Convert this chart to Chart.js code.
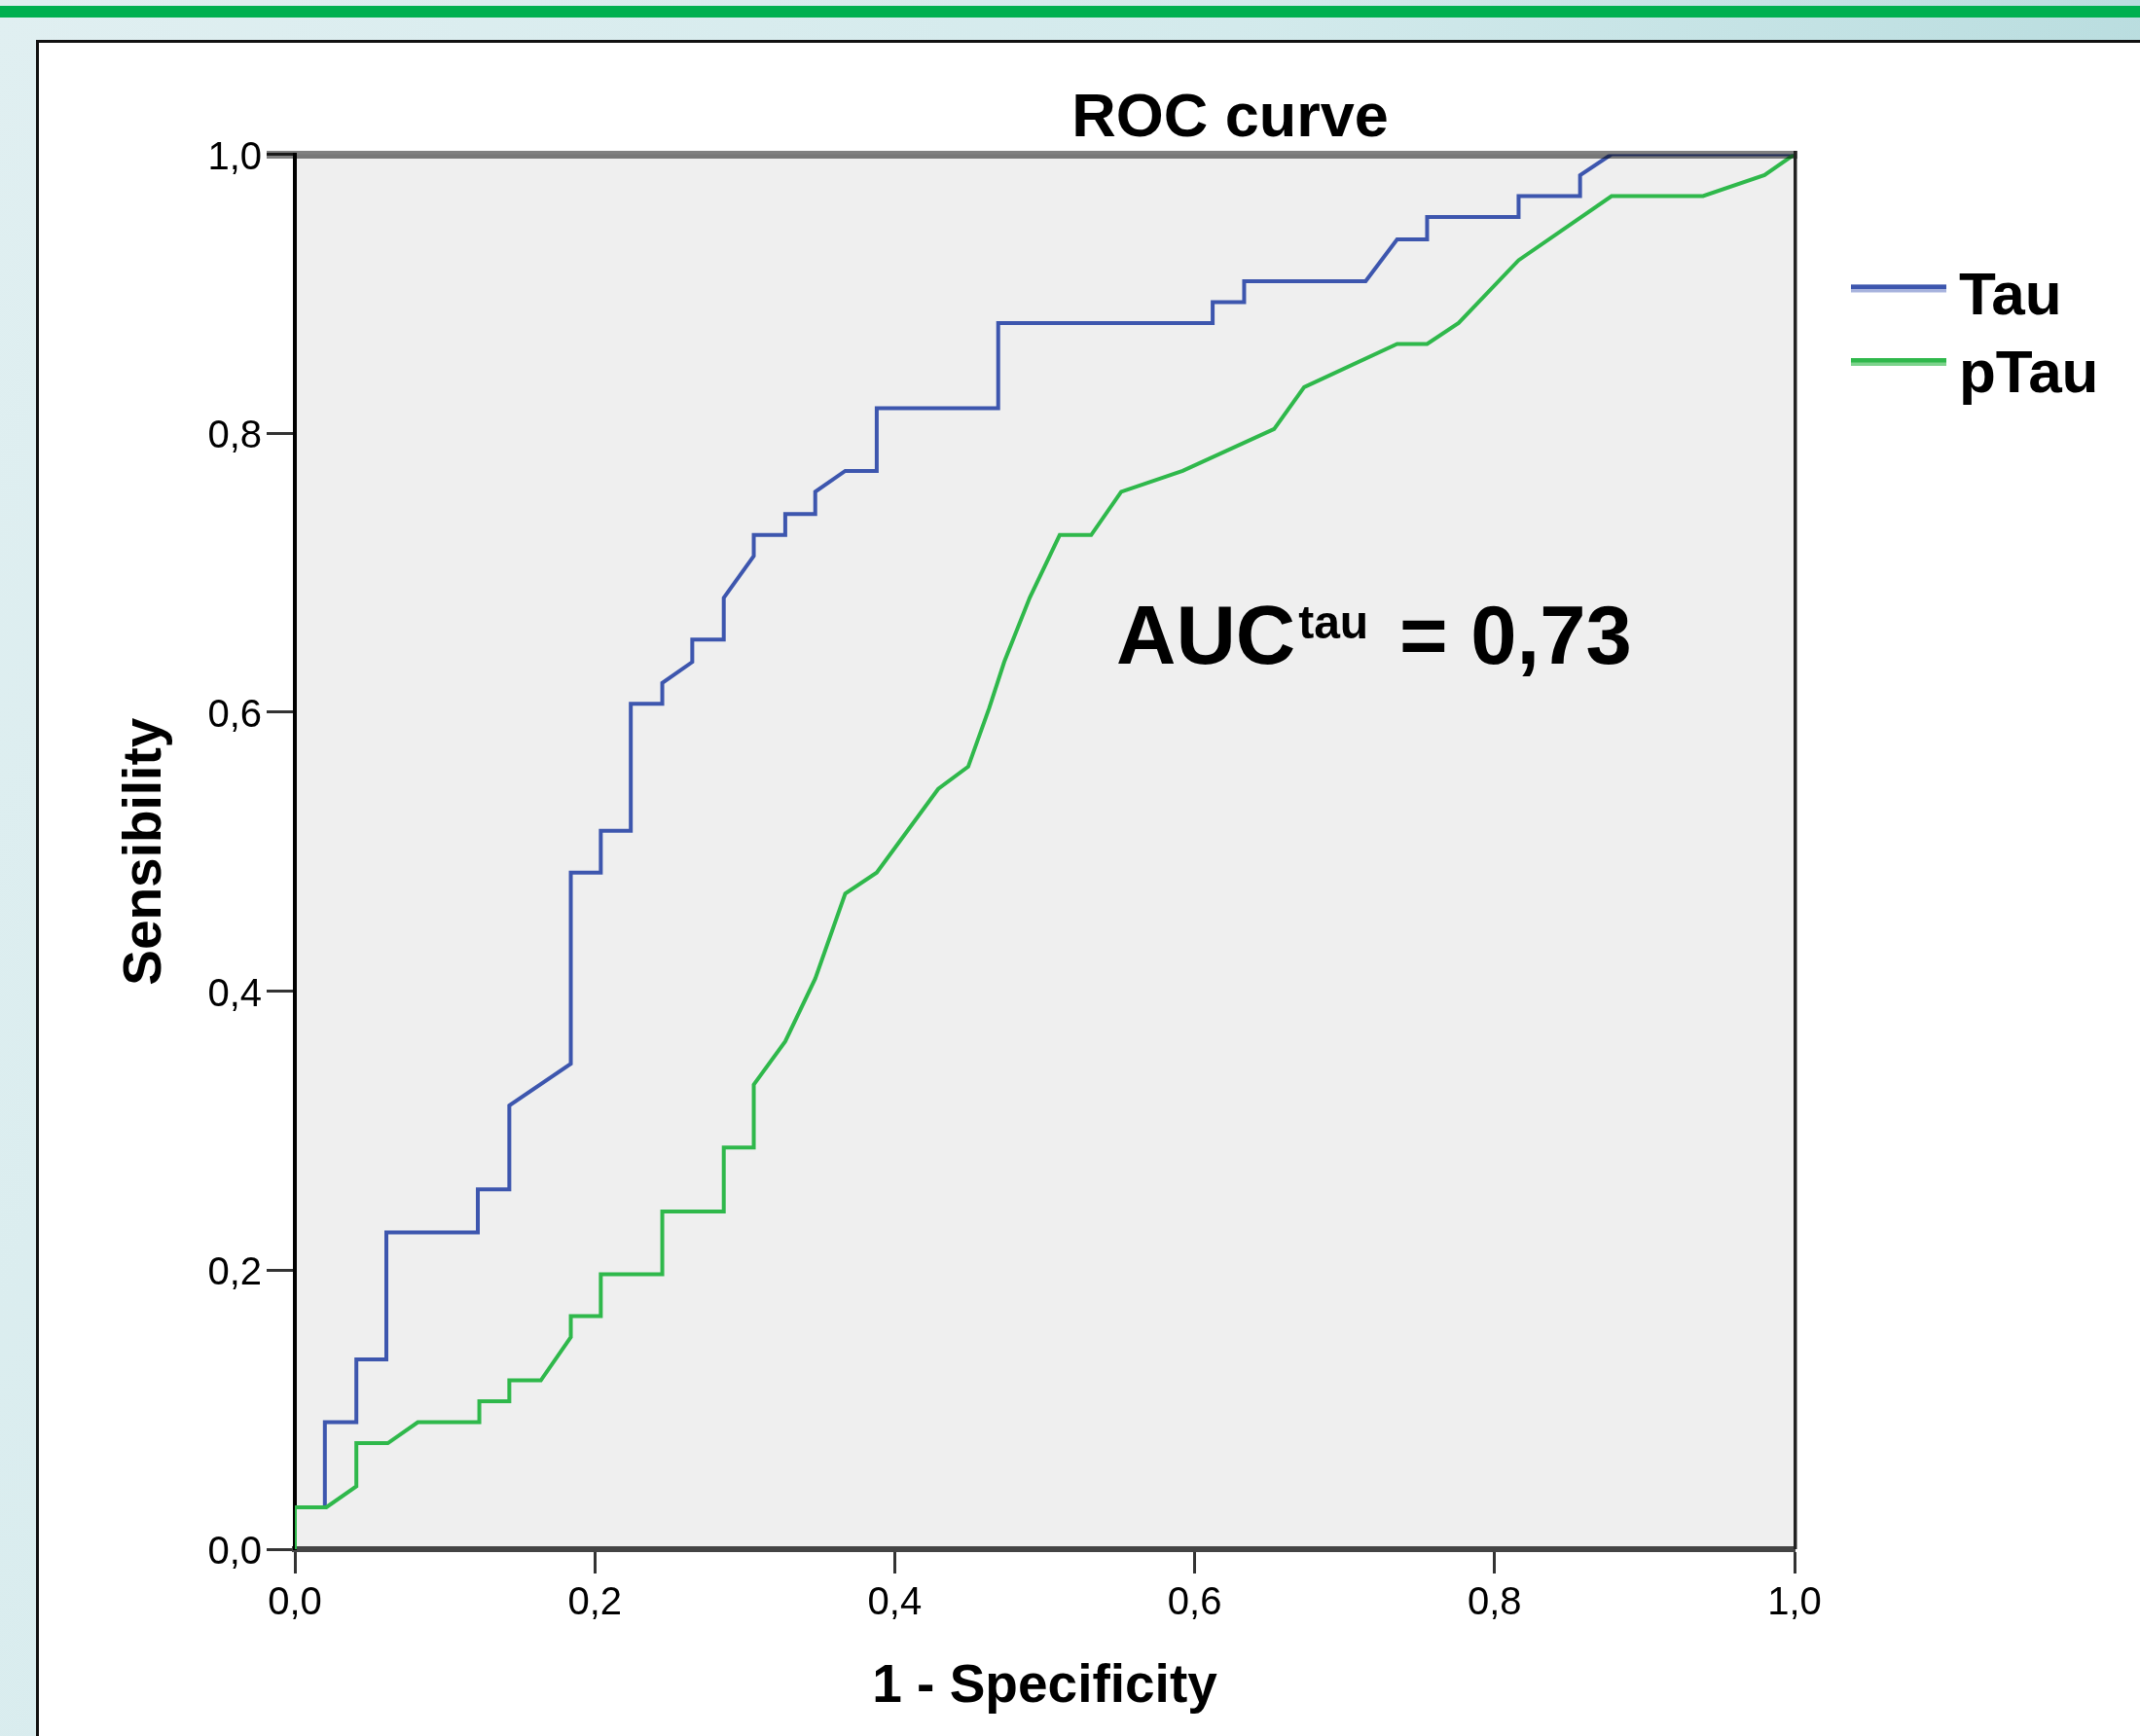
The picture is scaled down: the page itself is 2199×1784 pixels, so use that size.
<!DOCTYPE html>
<html><head><meta charset="utf-8">
<script src="https://cdn.jsdelivr.net/npm/chart.js@4.4.0/dist/chart.umd.min.js"></script>
<style>
html,body{margin:0;padding:0;}
body{width:2199px;height:1784px;overflow:hidden;position:relative;background:linear-gradient(110deg,#e0eff1 0%,#d3eaec 45%,#a9d5d7 100%);}
#band{position:absolute;left:0;top:6px;width:2199px;height:12px;background:#00b050;}
#panel{position:absolute;left:37px;top:41px;width:2200px;height:1800px;background:#fff;border-left:3px solid #111;border-top:3px solid #111;}
#wrap{position:absolute;left:0;top:0;width:2199px;height:1784px;}
canvas{display:block;}
</style></head><body>
<div id="band"></div><div id="panel"></div>
<div id="wrap"><canvas id="c" width="2199" height="1784"></canvas></div>
<script>
// ---- data ----
const seriesNames = ['Tau', 'pTau'];
const fprTau = [0,0,0.020,0.020,0.041,0.041,0.061,0.061,0.122,0.122,
  0.143,0.143,0.184,0.184,0.204,0.204,0.224,0.224,0.245,0.245,
  0.265,0.265,0.286,0.286,0.306,0.306,0.327,0.327,0.347,0.347,
  0.367,0.388,0.388,0.469,0.469,0.612,0.612,0.633,0.633,0.714,
  0.735,0.755,0.755,0.816,0.816,0.857,0.857,0.878,1.0];
const tprTau = [0,0.030,0.030,0.091,0.091,0.136,0.136,0.227,0.227,0.258,
  0.258,0.318,0.348,0.485,0.485,0.515,0.515,0.606,0.606,0.621,
  0.636,0.652,0.652,0.682,0.712,0.727,0.727,0.742,0.742,0.758,
  0.773,0.773,0.818,0.818,0.879,0.879,0.894,0.894,0.909,0.909,
  0.939,0.939,0.955,0.955,0.970,0.970,0.985,1.0,1.0];
const fprPTau = [0,0,0.021,0.041,0.041,0.062,0.082,0.123,0.123,0.143,
  0.143,0.164,0.184,0.184,0.204,0.204,0.245,0.245,0.286,0.286,
  0.306,0.306,0.327,0.347,0.367,0.388,0.429,0.449,0.463,0.473,
  0.490,0.510,0.531,0.551,0.592,0.653,0.673,0.735,0.755,0.776,
  0.816,0.878,0.939,0.980,1.0];
const tprPTau = [0,0.030,0.030,0.045,0.076,0.076,0.091,0.091,0.106,0.106,
  0.121,0.121,0.152,0.167,0.167,0.197,0.197,0.242,0.242,0.288,
  0.288,0.333,0.364,0.409,0.470,0.485,0.545,0.561,0.603,0.636,
  0.682,0.727,0.727,0.758,0.773,0.803,0.833,0.864,0.864,0.879,
  0.924,0.970,0.970,0.985,1.0];
const tickLabels = ['0,0','0,2','0,4','0,6','0,8','1,0'];
const chartTitle = 'ROC curve';
const xTitle = '1 - Specificity';
const yTitle = 'Sensibility';
const aucMain = 'AUC';
const aucSup = 'tau';
const aucValue = '= 0,73';

const seriesColors = ['#3d56ae', '#2fb84b'];
const legendLight = ['#a6b2dd', '#7dd38c'];

const FONT = "'Liberation Sans', Arial, sans-serif";
Chart.defaults.font.family = FONT;

const toPts = (xs, ys) => xs.map((x, i) => ({x: x, y: ys[i]}));
const tickText = v => tickLabels[Math.round(v * 5)] ?? '';

const decor = {
  id: 'decor',
  beforeDraw(chart) {
    const {ctx, chartArea: a} = chart;
    ctx.save();
    ctx.fillStyle = '#efefef';
    ctx.fillRect(a.left, a.top, a.right - a.left, a.bottom - a.top);
    ctx.restore();
  },
  afterDatasetsDraw(chart) {
    const {ctx, chartArea: a} = chart;
    ctx.save();
    ctx.globalCompositeOperation = 'multiply';
    ctx.fillStyle = '#808080';
    ctx.fillRect(274, a.top - 3.5, a.right + 3 - 274, 8);
    ctx.restore();
    ctx.save();
    ctx.fillStyle = '#222';
    ctx.fillRect(a.right - 1, a.top - 3.5, 3.5, a.bottom - a.top + 3.5);
    ctx.restore();
  },
  afterDraw(chart) {
    const {ctx} = chart;
    ctx.save();
    ctx.fillStyle = '#000';
    ctx.textBaseline = 'alphabetic';
    // title
    ctx.font = 'bold 63px ' + FONT;
    ctx.textAlign = 'center';
    ctx.fillText(chartTitle, 1264, 140);
    // legend
    ctx.textAlign = 'left';
    ctx.font = 'bold 62px ' + FONT;
    const lineY = [296.5, 372];
    const textY = [323, 403];
    chart.data.datasets.forEach((ds, i) => {
      ctx.fillStyle = legendLight[i];
      ctx.fillRect(1902, lineY[i] - 4, 98, 8);
      ctx.fillStyle = ds.borderColor;
      ctx.fillRect(1902, lineY[i] - 4, 98, 4.5);
      ctx.fillStyle = '#000';
      ctx.fillText(ds.label, 2013, textY[i]);
    });
    // AUC annotation
    ctx.font = 'bold 85px ' + FONT;
    ctx.fillText(aucMain, 1147, 682);
    let x = 1147 + ctx.measureText(aucMain).width + 3;
    ctx.font = 'bold 48px ' + FONT;
    ctx.fillText(aucSup, x, 656);
    ctx.font = 'bold 85px ' + FONT;
    ctx.fillText(aucValue, 1438, 682);
    ctx.restore();
  }
};

new Chart(document.getElementById('c'), {
  type: 'line',
  data: {
    datasets: [
      {label: seriesNames[0], data: toPts(fprTau, tprTau), borderColor: seriesColors[0],
       borderWidth: 4, pointRadius: 0, tension: 0, fill: false, order: 1},
      {label: seriesNames[1], data: toPts(fprPTau, tprPTau), borderColor: seriesColors[1],
       borderWidth: 4, pointRadius: 0, tension: 0, fill: false, order: 0}
    ]
  },
  options: {
    responsive: false,
    animation: false,
    events: [],
    layout: {padding: {left: 0, top: 158.5, right: 355, bottom: 0}},
    plugins: {legend: {display: false}, tooltip: {enabled: false}, title: {display: false}},
    scales: {
      x: {
        type: 'linear', position: 'bottom', min: 0, max: 1,
        afterFit: s => { s.height = 192; },
        ticks: {stepSize: 0.2, callback: tickText, color: '#000', font: {size: 40}, padding: 7,
                autoSkip: false, maxRotation: 0},
        grid: {display: true, drawOnChartArea: false, drawTicks: true, tickLength: 25,
               tickWidth: 3, tickColor: '#333'},
        border: {display: true, color: '#444', width: 6},
        title: {display: true, text: xTitle, color: '#000', font: {size: 55, weight: 'bold'},
                padding: {top: 0, bottom: 17}}
      },
      y: {
        type: 'linear', position: 'left', min: 0, max: 1,
        afterFit: s => { s.width = 303; },
        ticks: {stepSize: 0.2, callback: tickText, color: '#000', font: {size: 40}, padding: 5,
                autoSkip: false, labelOffset: 4},
        grid: {display: true, drawOnChartArea: false, drawTicks: true, tickLength: 29,
               tickWidth: 3, tickColor: '#333'},
        border: {display: true, color: '#000', width: 4},
        title: {display: true, text: yTitle, color: '#000', font: {size: 55, weight: 'bold'},
                padding: {top: 117, bottom: 0}}
      }
    }
  },
  plugins: [decor]
});
</script></body></html>
